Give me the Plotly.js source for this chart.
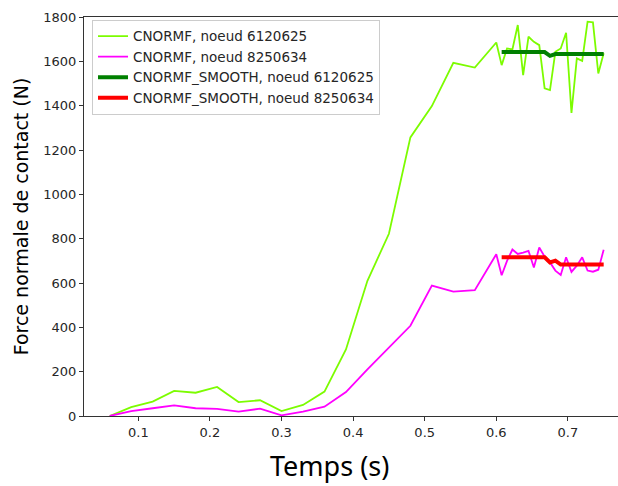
<!DOCTYPE html>
<html>
<head>
<meta charset="utf-8">
<script src="https://cdn.plot.ly/plotly-3.0.1.min.js"></script>
<style>html,body{margin:0;padding:0;background:#fff;}#chart{width:618px;height:486px;}</style>
</head>
<body>
<div id="chart"></div>
<script>
// Time (s)
const temps = [0.06, 0.09, 0.12, 0.15, 0.18, 0.21, 0.24, 0.27, 0.30, 0.33, 0.36, 0.39, 0.42, 0.45, 0.48, 0.51, 0.54, 0.57, 0.60,
  0.6075, 0.615, 0.6225, 0.63, 0.6375, 0.645, 0.6525, 0.66, 0.6675, 0.675, 0.6825, 0.69, 0.6975, 0.705, 0.7125, 0.72, 0.7275, 0.735, 0.7425, 0.75];
// CNORMF, noeud 6120625
const cnormf6120625 = [0, 40, 65, 113, 105, 131, 63, 71, 22, 50, 110, 300, 610, 822, 1257, 1398, 1593, 1572, 1685,
  1583, 1658, 1654, 1764, 1538, 1711, 1688, 1673, 1478, 1470, 1643, 1658, 1729, 1367, 1613, 1602, 1779, 1776, 1545, 1636];
// CNORMF, noeud 8250634
const cnormf8250634 = [0, 22, 35, 48, 35, 32, 20, 33, 3, 20, 42, 108, 210, 310, 407, 588, 561, 568, 730,
  635, 700, 751, 731, 737, 745, 670, 760, 719, 693, 656, 636, 716, 650, 678, 716, 656, 651, 660, 750];
// Smoothed series (from 0.6075 s)
const tempsSmooth = [0.6075, 0.615, 0.6225, 0.63, 0.6375, 0.645, 0.6525, 0.66, 0.6675, 0.675, 0.6825, 0.69, 0.6975, 0.705, 0.7125, 0.72, 0.7275, 0.735, 0.7425, 0.75];
const smooth6120625 = [1642, 1642, 1642, 1642, 1642, 1642, 1642, 1642, 1642, 1625, 1633, 1633, 1633, 1633, 1633, 1633, 1633, 1633, 1633, 1633];
const smooth8250634 = [716, 716, 716, 716, 716, 716, 716, 716, 716, 693, 701, 683, 683, 683, 683, 683, 683, 683, 683, 683];

const names = ["CNORMF, noeud 6120625", "CNORMF, noeud 8250634", "CNORMF_SMOOTH, noeud 6120625", "CNORMF_SMOOTH, noeud 8250634"];
const yTicks = [0, 200, 400, 600, 800, 1000, 1200, 1400, 1600, 1800];
const xTicks = [0.1, 0.2, 0.3, 0.4, 0.5, 0.6, 0.7];
const xTitle = "Temps (s)";
const yTitle = "Force normale de contact (N)";

const data = [
  {x: temps, y: cnormf6120625, mode: "lines", name: names[0], line: {color: "#7cfc00", width: 1.8}},
  {x: temps, y: cnormf8250634, mode: "lines", name: names[1], line: {color: "#ff00ff", width: 1.8}},
  {x: tempsSmooth, y: smooth6120625, mode: "lines", name: names[2], line: {color: "#008000", width: 4}},
  {x: tempsSmooth, y: smooth8250634, mode: "lines", name: names[3], line: {color: "#ff0000", width: 4}}
];

const layout = {
  width: 618, height: 486,
  margin: {l: 84, r: 0, t: 17, b: 70, pad: 0},
  paper_bgcolor: "#fff", plot_bgcolor: "#fff",
  font: {family: "DejaVu Sans", size: 13, color: "#262626"},
  showlegend: true,
  legend: {x: 0.015, y: 0.993, xanchor: "left", yanchor: "top", bgcolor: "#fff",
    bordercolor: "#cccccc", borderwidth: 1, font: {family: "DejaVu Sans", size: 13.5, color: "#262626"}, itemwidth: 30},
  xaxis: {
    range: [0.0241, 0.770], tickvals: xTicks, ticktext: xTicks.map(v => v.toFixed(1)),
    showgrid: false, zeroline: false, showline: true, linecolor: "#333", linewidth: 1, mirror: true,
    ticks: "outside", ticklen: 4, tickcolor: "#333", tickfont: {family: "DejaVu Sans", size: 13, color: "#262626"}
  },
  yaxis: {
    range: [0, 1800], tickvals: yTicks, ticktext: yTicks.map(String),
    showgrid: false, zeroline: false, showline: true, linecolor: "#333", linewidth: 1,
    ticks: "outside", ticklen: 4, tickcolor: "#333", tickfont: {family: "DejaVu Sans", size: 13, color: "#262626"},
    title: {text: yTitle, font: {family: "DejaVu Sans", size: 19, color: "#000"}, standoff: 9}
  },
  annotations: [{
    text: xTitle, xref: "paper", yref: "paper", x: 0.459, y: -0.123, xanchor: "center", yanchor: "middle",
    showarrow: false, font: {family: "Noto Sans", size: 27, color: "#000"}
  }]
};
Plotly.newPlot("chart", data, layout, {displayModeBar: false, staticPlot: true});
</script>
</body>
</html>
